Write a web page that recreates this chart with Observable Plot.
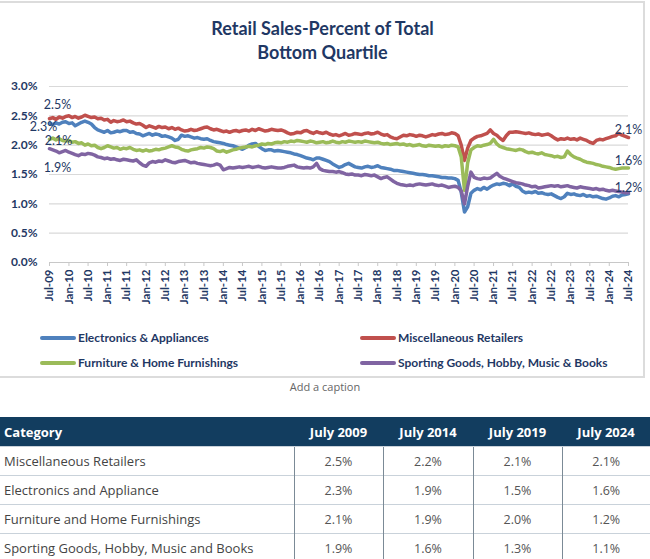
<!DOCTYPE html>
<html><head><meta charset="utf-8">
<script src="https://cdn.jsdelivr.net/npm/d3@7"></script>
<script src="https://cdn.jsdelivr.net/npm/@observablehq/plot@0.6"></script>
<style>
html,body{margin:0;padding:0;background:#fff;}
body{width:650px;height:559px;overflow:hidden;position:relative;font-family:Lato,"Open Sans",sans-serif;}
#box{position:absolute;left:-2px;top:1px;width:647px;height:377px;border:2px solid #dcdcdc;box-sizing:border-box;}
#title{position:absolute;top:16px;left:0;width:645px;text-align:center;font-weight:700;font-size:18px;line-height:24px;color:#1f3864;}
#chart{position:absolute;left:0;top:70px;}
.leg{position:absolute;display:flex;align-items:center;font-weight:700;font-size:12px;color:#1f3864;white-space:pre;}
.leg span.sw{display:inline-block;width:36px;height:4px;border-radius:2px;margin-right:2px;}
#caption{position:absolute;top:379px;left:0;width:650px;text-align:center;font-family:"Open Sans",sans-serif;font-size:11px;color:#666;}
#tbl{position:absolute;top:417px;left:0;width:650px;border-collapse:collapse;font-family:"Open Sans",sans-serif;table-layout:fixed;}
#tbl th{background:#123d5f;color:#fff;font-weight:700;font-size:13px;height:29px;padding:0;text-align:center;}
#tbl th:first-child{text-align:left;padding-left:4px;}
#tbl td{height:28px;padding:0;font-size:12.5px;color:#555;text-align:center;border-top:1px solid #c9d2da;border-left:1.5px solid #7b8a96;}
#tbl td:first-child{text-align:left;padding-left:4px;border-left:none;color:#444;font-size:13px;}
</style>
</head><body>
<div id="box"></div>
<div id="title">Retail Sales-Percent of Total<br>Bottom Quartile</div>
<div id="chart"></div>
<div id="legend"></div>
<div id="caption">Add a caption</div>
<table id="tbl"></table>
<script>
// ---- Data (monthly, Jul 2009 .. Jul 2024) ----
const seriesNames = ["Electronics & Appliances","Miscellaneous Retailers","Furniture & Home Furnishings","Sporting Goods, Hobby, Music & Books"];
const seriesColors = ["#4f81bd","#c0504d","#9bbb59","#8064a2"];

const electronics = [
2.37,2.35,2.38,2.36,2.39,2.40,2.37,2.38,2.33,2.36,2.39,2.41,
2.39,2.36,2.30,2.26,2.24,2.22,2.25,2.21,2.22,2.24,2.23,2.25,
2.25,2.22,2.23,2.20,2.19,2.16,2.18,2.20,2.17,2.19,2.18,2.15,
2.16,2.14,2.12,2.08,2.10,2.17,2.15,2.16,2.14,2.12,2.13,2.11,
2.10,2.11,2.08,2.06,2.05,2.04,2.03,2.01,2.00,1.99,1.97,1.95,
1.93,1.96,2.00,2.02,2.03,1.98,1.94,1.91,1.92,1.92,1.90,1.91,
1.90,1.89,1.88,1.87,1.85,1.84,1.82,1.80,1.78,1.77,1.75,1.78,
1.78,1.76,1.74,1.72,1.68,1.65,1.62,1.64,1.67,1.69,1.66,1.63,
1.62,1.61,1.63,1.64,1.62,1.63,1.65,1.62,1.61,1.60,1.59,1.57,
1.57,1.56,1.55,1.54,1.53,1.52,1.51,1.50,1.50,1.49,1.48,1.48,
1.47,1.46,1.45,1.45,1.44,1.44,1.43,1.40,1.20,0.86,0.95,1.18,
1.23,1.26,1.24,1.28,1.25,1.29,1.32,1.34,1.33,1.35,1.34,1.31,
1.34,1.30,1.28,1.22,1.19,1.20,1.19,1.21,1.18,1.19,1.17,1.16,
1.17,1.14,1.11,1.09,1.12,1.18,1.16,1.17,1.15,1.14,1.16,1.13,
1.14,1.12,1.13,1.11,1.09,1.08,1.10,1.13,1.14,1.12,1.15,1.16,
1.17];

const miscellaneous = [
2.45,2.47,2.44,2.48,2.46,2.49,2.50,2.47,2.49,2.46,2.48,2.51,
2.49,2.47,2.48,2.45,2.46,2.43,2.44,2.39,2.42,2.40,2.41,2.43,
2.40,2.41,2.38,2.36,2.37,2.34,2.30,2.33,2.31,2.29,2.32,2.30,
2.31,2.28,2.30,2.27,2.29,2.26,2.24,2.25,2.27,2.25,2.26,2.28,
2.30,2.31,2.28,2.26,2.27,2.25,2.23,2.24,2.22,2.24,2.25,2.23,
2.25,2.26,2.24,2.27,2.25,2.28,2.26,2.24,2.25,2.27,2.26,2.25,
2.26,2.24,2.21,2.19,2.20,2.22,2.21,2.24,2.25,2.22,2.20,2.23,
2.21,2.20,2.22,2.19,2.17,2.18,2.16,2.18,2.20,2.17,2.18,2.20,
2.19,2.18,2.20,2.21,2.19,2.20,2.22,2.19,2.17,2.18,2.14,2.12,
2.11,2.14,2.17,2.16,2.18,2.17,2.15,2.17,2.16,2.14,2.16,2.18,
2.17,2.19,2.20,2.18,2.19,2.21,2.20,2.16,2.00,1.74,1.95,2.08,
2.12,2.15,2.16,2.18,2.20,2.26,2.20,2.17,2.12,2.08,2.16,2.22,
2.22,2.23,2.22,2.21,2.20,2.21,2.19,2.18,2.19,2.17,2.18,2.19,
2.16,2.12,2.09,2.11,2.10,2.12,2.10,2.11,2.09,2.12,2.10,2.08,
2.05,2.03,2.08,2.10,2.09,2.11,2.13,2.15,2.16,2.20,2.17,2.15,
2.13];

const furniture = [
2.10,2.12,2.09,2.11,2.08,2.07,2.08,2.05,2.06,2.03,2.04,2.00,
2.02,1.99,2.00,1.96,1.94,1.96,1.99,1.97,1.95,1.96,1.93,1.95,
1.94,1.96,1.93,1.91,1.92,1.90,1.92,1.90,1.91,1.93,1.92,1.94,
1.95,1.97,1.99,1.97,1.96,1.93,1.91,1.90,1.92,1.93,1.94,1.96,
1.95,1.97,1.96,1.94,1.90,1.89,1.91,1.88,1.90,1.92,1.93,1.95,
1.96,1.97,1.98,1.97,1.99,2.00,2.02,2.01,2.03,2.02,2.04,2.05,
2.04,2.06,2.05,2.07,2.06,2.08,2.07,2.06,2.05,2.07,2.06,2.04,
2.05,2.06,2.04,2.05,2.07,2.05,2.04,2.06,2.05,2.07,2.06,2.05,
2.06,2.05,2.07,2.06,2.05,2.04,2.05,2.03,2.02,2.03,2.01,2.02,
2.03,2.01,2.02,2.00,2.01,1.99,2.00,2.01,1.99,1.98,2.00,1.99,
1.98,1.99,1.97,1.99,1.98,2.00,1.99,1.97,1.80,1.23,1.70,1.92,
1.96,1.99,1.98,2.00,2.01,2.03,2.10,2.02,1.98,1.96,1.94,1.93,
1.92,1.91,1.93,1.92,1.89,1.87,1.88,1.86,1.85,1.87,1.84,1.83,
1.82,1.80,1.81,1.79,1.80,1.90,1.84,1.80,1.78,1.76,1.73,1.71,
1.70,1.69,1.67,1.66,1.64,1.63,1.62,1.60,1.59,1.60,1.61,1.61,
1.61];

const sporting = [
1.94,1.92,1.90,1.87,1.89,1.91,1.88,1.86,1.84,1.82,1.85,1.84,
1.86,1.85,1.83,1.80,1.79,1.77,1.78,1.76,1.77,1.75,1.74,1.76,
1.75,1.74,1.73,1.75,1.70,1.66,1.64,1.70,1.72,1.71,1.73,1.72,
1.75,1.73,1.71,1.70,1.72,1.73,1.74,1.72,1.70,1.71,1.69,1.68,
1.67,1.66,1.65,1.66,1.68,1.66,1.58,1.60,1.62,1.61,1.62,1.63,
1.62,1.63,1.64,1.62,1.63,1.64,1.62,1.61,1.62,1.63,1.62,1.61,
1.61,1.62,1.64,1.65,1.66,1.63,1.62,1.61,1.62,1.61,1.63,1.69,
1.60,1.57,1.56,1.55,1.55,1.54,1.55,1.53,1.51,1.50,1.51,1.49,
1.49,1.48,1.50,1.49,1.48,1.49,1.46,1.43,1.45,1.46,1.42,1.38,
1.35,1.33,1.32,1.31,1.32,1.31,1.33,1.34,1.33,1.32,1.33,1.34,
1.32,1.31,1.32,1.30,1.28,1.29,1.30,1.28,1.22,1.00,1.30,1.54,
1.45,1.43,1.42,1.44,1.43,1.44,1.48,1.52,1.47,1.44,1.42,1.40,
1.38,1.36,1.35,1.34,1.32,1.31,1.29,1.30,1.27,1.28,1.29,1.30,
1.31,1.30,1.31,1.29,1.30,1.31,1.29,1.28,1.27,1.29,1.28,1.27,
1.26,1.25,1.26,1.24,1.25,1.23,1.22,1.23,1.22,1.21,1.20,1.19,
1.19];

const yTickValues = [0,0.5,1.0,1.5,2.0,2.5,3.0];
const startLabelTexts = ["2.3%","2.5%","2.1%","1.9%"];   // electronics, misc, furniture, sporting
const endLabelTexts = [null,"2.1%","1.6%","1.2%"];

// table
const tableHeader = ["Category","July 2009","July 2014","July 2019","July 2024"];
const tableCategories = ["Miscellaneous Retailers","Electronics and Appliance","Furniture and Home Furnishings","Sporting Goods, Hobby, Music and Books"];
const tableJuly2009 = ["2.5%","2.3%","2.1%","1.9%"];
const tableJuly2014 = ["2.2%","1.9%","1.9%","1.6%"];
const tableJuly2019 = ["2.1%","1.5%","2.0%","1.3%"];
const tableJuly2024 = ["2.1%","1.6%","1.2%","1.1%"];

// ---- build ----
const startMonth = new Date(Date.UTC(2009, 6, 1));
const months = d3.utcMonth.range(startMonth, d3.utcMonth.offset(startMonth, electronics.length));
const seriesValues = [electronics, miscellaneous, furniture, sporting];
const data = seriesValues.flatMap((vals, s) => vals.map((v, i) => ({date: months[i], value: v, series: seriesNames[s]})));
const xTicks = d3.utcMonth.every(6).range(months[0], d3.utcMonth.offset(months[months.length-1], 1));

const navy = "#1f3864";
const startOffsets = [[-6,4],[8,-14],[9,2],[8,19]];
const endOffsets = [null,[0,-8],[0,-7],[0,-5]];

const labelMarks = [];
seriesValues.forEach((vals, s) => {
  const first = [{date: months[0], value: vals[0], t: startLabelTexts[s]}];
  labelMarks.push(Plot.text(first, {x:"date", y:"value", text:"t", dx:startOffsets[s][0], dy:startOffsets[s][1], fill:navy, fontSize:12.5}));
  if (endLabelTexts[s]) {
    const n = vals.length - 1;
    const last = [{date: months[n], value: vals[n], t: endLabelTexts[s]}];
    labelMarks.push(Plot.text(last, {x:"date", y:"value", text:"t", dx:endOffsets[s][0], dy:endOffsets[s][1], fill:navy, fontSize:12.5}));
  }
});

const chart = Plot.plot({
  width: 650, height: 240,
  marginLeft: 49, marginRight: 22, marginTop: 16, marginBottom: 48,
  style: {fontFamily: "Lato, 'Open Sans', sans-serif", background: "transparent", overflow: "visible", color: navy},
  x: {type: "utc", domain: [months[0], months[months.length-1]], label: null},
  y: {domain: [0, 3], label: null},
  color: {domain: seriesNames, range: seriesColors},
  marks: [
    Plot.gridY(yTickValues.filter(d => d > 0), {stroke: "#d9d9d9", strokeOpacity: 1, strokeWidth: 1.2}),
    Plot.axisY(yTickValues, {tickSize: 0, tickPadding: 12, label: null, tickFormat: d => d.toFixed(1) + "%", fontWeight: "bold", fontSize: 12, fill: navy}),
    Plot.ruleY([0], {stroke: "#c8c8c8", strokeWidth: 1.2}),
    Plot.axisX(xTicks, {tickRotate: -90, label: null, tickFormat: d3.utcFormat("%b-%y"), tickSize: 4, tickPadding: 3, stroke: "#c8c8c8", fontWeight: "bold", fontSize: 11.5, fill: navy}),
    Plot.lineY(data, {x: "date", y: "value", stroke: "series", z: "series", strokeWidth: 3.5, strokeLinejoin: "round"}),
    ...labelMarks
  ]
});
document.getElementById("chart").appendChild(chart);

// legend
const legPos = [[40,330],[360,330],[40,355],[360,355]];
const legend = document.getElementById("legend");
seriesNames.forEach((n, i) => {
  const d = document.createElement("div");
  d.className = "leg";
  d.style.left = legPos[i][0] + "px";
  d.style.top = legPos[i][1] + "px";
  d.innerHTML = `<span class="sw" style="background:${seriesColors[i]}"></span>`;
  d.appendChild(document.createTextNode(n));
  legend.appendChild(d);
});

// table
const tbl = document.getElementById("tbl");
const colW = [294, 89, 90, 89, 88];
const cg = document.createElement("colgroup");
colW.forEach(w => { const c = document.createElement("col"); c.style.width = w + "px"; cg.appendChild(c); });
tbl.appendChild(cg);
const hr = document.createElement("tr");
tableHeader.forEach(h => { const th = document.createElement("th"); th.textContent = h; hr.appendChild(th); });
tbl.appendChild(hr);
tableCategories.forEach((c, i) => {
  const tr = document.createElement("tr");
  [c, tableJuly2009[i], tableJuly2014[i], tableJuly2019[i], tableJuly2024[i]].forEach(v => {
    const td = document.createElement("td"); td.textContent = v; tr.appendChild(td);
  });
  tbl.appendChild(tr);
});
</script>
</body></html>
